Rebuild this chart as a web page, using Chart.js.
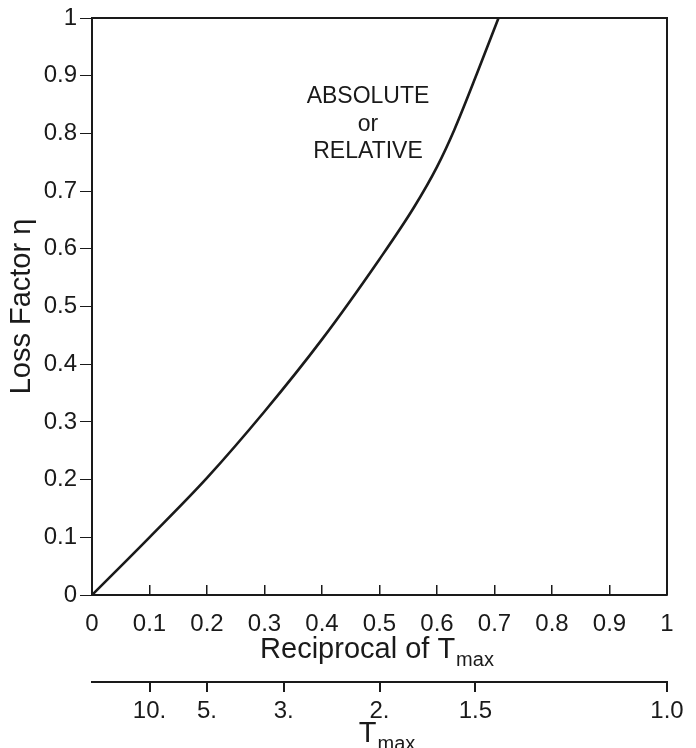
<!DOCTYPE html>
<html>
<head>
<meta charset="utf-8">
<script src="https://cdn.jsdelivr.net/npm/chart.js@4"></script>
<style>
  html, body { margin: 0; padding: 0; background: #fff; }
  canvas { display: block; }
</style>
</head>
<body>
<canvas id="lossChart" width="696" height="748"></canvas>
<script>
const ctx = document.getElementById("lossChart").getContext("2d");

// curve: reciprocal of Tmax vs loss factor
const reciprocal = [0, 0.1, 0.2, 0.3, 0.4, 0.5, 0.56, 0.6, 0.63, 0.67, 0.707];
const lossFactor = [0, 0.1, 0.203, 0.318, 0.443, 0.582, 0.672, 0.742, 0.806, 0.905, 1.0];

// second scale: Tmax values and their labels
const tmaxValues = [10, 5, 3, 2, 1.5, 1.0];
const tmaxLabels = ["10.", "5.", "3.", "2.", "1.5", "1.0"];

const noteLines = ["ABSOLUTE", "or", "RELATIVE"];
const notePos = { x: 0.48, y: 0.863 };

const FONT = "'Liberation Sans', Arial, sans-serif";
const INK = "#1a1a1a";

const points = reciprocal.map((x, i) => ({ x: x, y: lossFactor[i] }));

const extras = {
  id: "extras",
  afterDraw(chart) {
    const c = chart.ctx;
    const area = chart.chartArea;
    const sx = chart.scales.x;
    const sx2 = chart.scales.x2;
    const sy = chart.scales.y;
    c.save();
    // top and right frame
    c.strokeStyle = INK;
    c.lineWidth = 2;
    c.beginPath();
    c.moveTo(area.left, area.top);
    c.lineTo(area.right, area.top);
    c.lineTo(area.right, area.bottom);
    c.stroke();

    c.fillStyle = INK;
    // note text
    c.font = "23px " + FONT;
    c.textAlign = "center";
    c.textBaseline = "middle";
    const nx = sx.getPixelForValue(notePos.x);
    const ny = sy.getPixelForValue(notePos.y);
    noteLines.forEach((t, i) => c.fillText(t, nx, ny + i * 27.5));

    // axis titles with subscript
    function subTitle(main, sub, cx, baseline) {
      c.textAlign = "left";
      c.textBaseline = "alphabetic";
      c.font = "29px " + FONT;
      const w1 = c.measureText(main).width;
      c.font = "20px " + FONT;
      const w2 = c.measureText(sub).width;
      const x0 = cx - (w1 + w2) / 2;
      c.font = "29px " + FONT;
      c.fillText(main, x0, baseline);
      c.font = "20px " + FONT;
      c.fillText(sub, x0 + w1 + 1, baseline + 8);
    }
    const mid = (area.left + area.right) / 2;
    subTitle("Reciprocal of T", "max", mid - 3, sx.top + 63);
    subTitle("T", "max", mid + 7, sx2.top + 60);
    c.restore();
  }
};

// fixed sizes for the bottom axes, no extra label padding at the ends
function fitBottom(h) {
  return (s) => {
    s.height = h;
    s.paddingLeft = 0;
    s.paddingRight = 0;
  };
}

new Chart(ctx, {
  type: "scatter",
  data: {
    datasets: [
      {
        data: points,
        showLine: true,
        borderColor: INK,
        borderWidth: 2.6,
        pointRadius: 0,
        cubicInterpolationMode: "monotone",
        fill: false,
      },
    ],
  },
  options: {
    responsive: false,
    animation: false,
    layout: { padding: { top: 18, right: 29, left: 0, bottom: 0 } },
    plugins: { legend: { display: false }, tooltip: { enabled: false } },
    scales: {
      x: {
        type: "linear",
        position: "bottom",
        weight: 0,
        min: 0,
        max: 1,
        afterFit: fitBottom(87),
        border: { color: INK, width: 2 },
        grid: { drawOnChartArea: false, color: INK, tickLength: -10, lineWidth: 1.5 },
        ticks: {
          stepSize: 0.1,
          color: INK,
          padding: 25,
          font: { family: FONT, size: 24 },
          callback: (v) => (v === 0 || v === 1 ? String(v) : v.toFixed(1)),
        },
      },
      x2: {
        type: "linear",
        position: "bottom",
        weight: 1,
        min: 0,
        max: 1,
        afterFit: fitBottom(66),
        afterBuildTicks: (s) => {
          s.ticks = tmaxValues.map((t) => ({ value: 1 / t }));
        },
        border: { color: INK, width: 2 },
        grid: { drawOnChartArea: false, color: INK, tickLength: 10, lineWidth: 2 },
        ticks: {
          color: INK,
          padding: 5,
          font: { family: FONT, size: 24 },
          callback: (v, i) => tmaxLabels[i],
        },
      },
      y: {
        type: "linear",
        min: 0,
        max: 1,
        afterFit: (s) => { s.width = 92; s.paddingTop = 0; s.paddingBottom = 0; },
        border: { color: INK, width: 2 },
        grid: { drawOnChartArea: false, color: INK, tickLength: 12, lineWidth: 1 },
        ticks: {
          stepSize: 0.1,
          color: INK,
          padding: 3,
          font: { family: FONT, size: 24 },
          callback: (v) => (v === 0 || v === 1 ? String(v) : v.toFixed(1)),
        },
        title: {
          display: true,
          text: "Loss Factor η",
          color: INK,
          padding: { top: 5, bottom: 0 },
          font: { family: FONT, size: 29 },
        },
      },
    },
  },
  plugins: [extras],
});
</script>
</body>
</html>
